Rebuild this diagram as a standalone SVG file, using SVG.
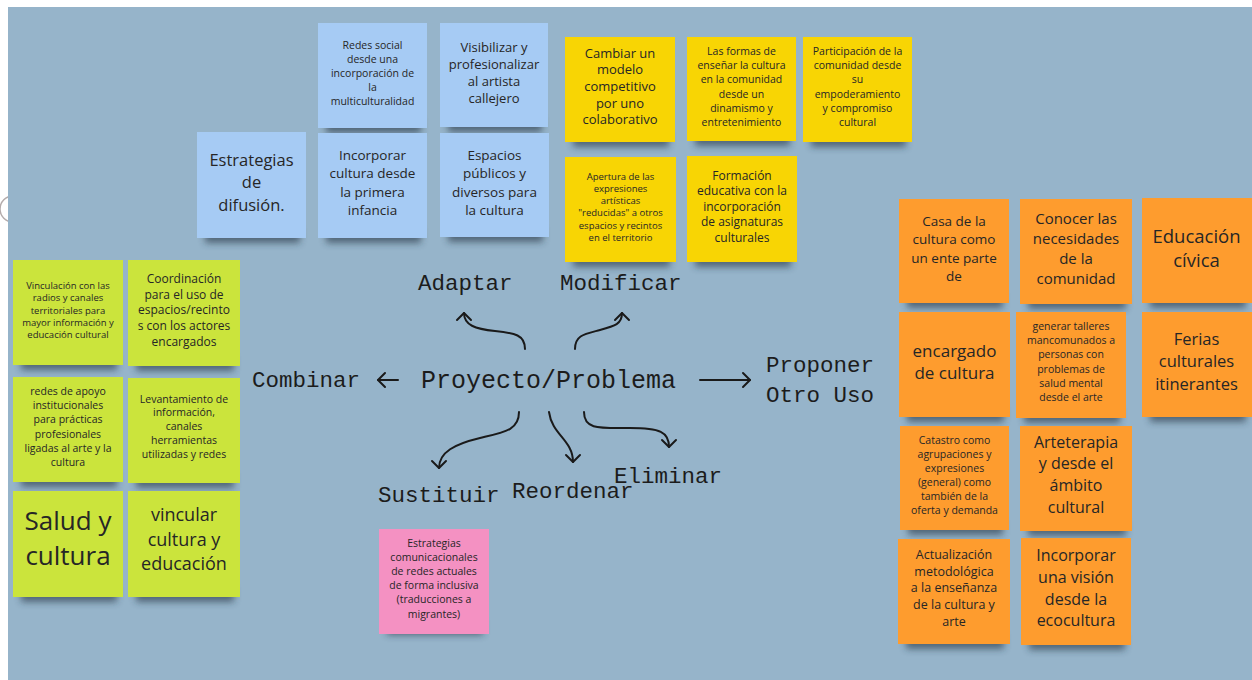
<svg xmlns="http://www.w3.org/2000/svg" width="1252" height="680" viewBox="0 0 1252 680">
<defs>
<filter id="blur" x="-20%" y="-100%" width="140%" height="300%"><feGaussianBlur stdDeviation="3.5"/></filter>
<marker id="chev" viewBox="-10 -10 20 20" refX="0" refY="0" markerWidth="20" markerHeight="20" markerUnits="userSpaceOnUse" orient="auto" overflow="visible">
<path d="M-7,-7 L0,0 L-7,7" fill="none" stroke="#1a1a1a" stroke-width="2" stroke-linecap="round" stroke-linejoin="round"/>
</marker>
<style>
.sh{fill:#24323f;opacity:.6;filter:url(#blur)}
.blue{fill:#a6cbf4}
.yellow{fill:#f8d504}
.green{fill:#cbe43c}
.orange{fill:#fe9c2e}
.pink{fill:#f491c2}
.t{font-family:"Open Sans","Noto Sans",sans-serif;fill:#262626;text-anchor:middle}
.lbl{font-family:"Liberation Mono","DejaVu Sans Mono",monospace;fill:#1c1c1c}
.arr{fill:none;stroke:#1a1a1a;stroke-width:2;stroke-linecap:round;marker-end:url(#chev)}
</style>
</defs>
<rect x="0" y="0" width="1252" height="680" fill="#ffffff"/>
<circle cx="13" cy="209" r="13" fill="none" stroke="#b4acac" stroke-width="1.5"/>
<rect x="8" y="7" width="1244" height="673" fill="#96b4ca"/>

<g id="n-estrategias-difusion"><rect class="sh" x="205" y="228" width="95" height="15"/><rect class="blue" x="197" y="132" width="109" height="106"/>
<text class="t" font-size="16.5"><tspan x="251.5" y="165.5">Estrategias</tspan><tspan x="251.5" dy="22.5">de</tspan><tspan x="251.5" dy="22.5">difusión.</tspan></text></g>
<g id="n-redes-social"><rect class="sh" x="326" y="118" width="95" height="15"/><rect class="blue" x="318" y="23" width="109" height="105"/>
<text class="t" font-size="10.5"><tspan x="372.5" y="48.5">Redes social</tspan><tspan x="372.5" dy="14">desde una</tspan><tspan x="372.5" dy="14">incorporación de</tspan><tspan x="372.5" dy="14">la</tspan><tspan x="372.5" dy="14">multiculturalidad</tspan></text></g>
<g id="n-visibilizar"><rect class="sh" x="448" y="117" width="94" height="15"/><rect class="blue" x="440" y="23" width="108" height="104"/>
<text class="t" font-size="13"><tspan x="494" y="51.6">Visibilizar y</tspan><tspan x="494" dy="17">profesionalizar</tspan><tspan x="494" dy="17">al artista</tspan><tspan x="494" dy="17">callejero</tspan></text></g>
<g id="n-incorporar-infancia"><rect class="sh" x="326" y="228" width="95" height="15"/><rect class="blue" x="318" y="133" width="109" height="105"/>
<text class="t" font-size="13.5"><tspan x="372.5" y="159.5">Incorporar</tspan><tspan x="372.5" dy="18.5">cultura desde</tspan><tspan x="372.5" dy="18.5">la primera</tspan><tspan x="372.5" dy="18.5">infancia</tspan></text></g>
<g id="n-espacios"><rect class="sh" x="448" y="227" width="95" height="15"/><rect class="blue" x="440" y="133" width="109" height="104"/>
<text class="t" font-size="13.5"><tspan x="494.5" y="159.5">Espacios</tspan><tspan x="494.5" dy="18.5">públicos y</tspan><tspan x="494.5" dy="18.5">diversos para</tspan><tspan x="494.5" dy="18.5">la cultura</tspan></text></g>

<g id="n-cambiar"><rect class="sh" x="573" y="132" width="96" height="15"/><rect class="yellow" x="565" y="37" width="110" height="105"/>
<text class="t" font-size="13"><tspan x="620" y="57.5">Cambiar un</tspan><tspan x="620" dy="16.7">modelo</tspan><tspan x="620" dy="16.7">competitivo</tspan><tspan x="620" dy="16.7">por uno</tspan><tspan x="620" dy="16.7">colaborativo</tspan></text></g>
<g id="n-formas"><rect class="sh" x="695" y="131" width="95" height="15"/><rect class="yellow" x="687" y="37" width="109" height="104"/>
<text class="t" font-size="10.5"><tspan x="741.5" y="55.2">Las formas de</tspan><tspan x="741.5" dy="14.1">enseñar la cultura</tspan><tspan x="741.5" dy="14.1">en la comunidad</tspan><tspan x="741.5" dy="14.1">desde un</tspan><tspan x="741.5" dy="14.1">dinamismo y</tspan><tspan x="741.5" dy="14.1">entretenimiento</tspan></text></g>
<g id="n-participacion"><rect class="sh" x="811" y="132" width="95" height="15"/><rect class="yellow" x="803" y="37" width="109" height="105"/>
<text class="t" font-size="10.5"><tspan x="857.5" y="55.2">Participación de la</tspan><tspan x="857.5" dy="14.1">comunidad desde</tspan><tspan x="857.5" dy="14.1">su</tspan><tspan x="857.5" dy="14.1">empoderamiento</tspan><tspan x="857.5" dy="14.1">y compromiso</tspan><tspan x="857.5" dy="14.1">cultural</tspan></text></g>
<g id="n-apertura"><rect class="sh" x="573" y="252" width="97" height="15"/><rect class="yellow" x="565" y="157" width="111" height="105"/>
<text class="t" font-size="9.5"><tspan x="620.5" y="179.7">Apertura de las</tspan><tspan x="620.5" dy="12.2">expresiones</tspan><tspan x="620.5" dy="12.2">artísticas</tspan><tspan x="620.5" dy="12.2">"reducidas" a otros</tspan><tspan x="620.5" dy="12.2">espacios y recintos</tspan><tspan x="620.5" dy="12.2">en el territorio</tspan></text></g>
<g id="n-formacion"><rect class="sh" x="695" y="252" width="96" height="15"/><rect class="yellow" x="687" y="156" width="110" height="106"/>
<text class="t" font-size="12"><tspan x="742" y="179.7">Formación</tspan><tspan x="742" dy="15.5">educativa con la</tspan><tspan x="742" dy="15.5">incorporación</tspan><tspan x="742" dy="15.5">de asignaturas</tspan><tspan x="742" dy="15.5">culturales</tspan></text></g>

<g id="n-vinculacion"><rect class="sh" x="21" y="355" width="96" height="15"/><rect class="green" x="13" y="260" width="110" height="105"/>
<text class="t" font-size="9.5"><tspan x="68" y="289">Vinculación con las</tspan><tspan x="68" dy="12.25">radios y canales</tspan><tspan x="68" dy="12.25">territoriales para</tspan><tspan x="68" dy="12.25">mayor información y</tspan><tspan x="68" dy="12.25">educación cultural</tspan></text></g>
<g id="n-coordinacion"><rect class="sh" x="136" y="356" width="98" height="15"/><rect class="green" x="128" y="260" width="112" height="106"/>
<text class="t" font-size="12"><tspan x="184" y="283">Coordinación</tspan><tspan x="184" dy="15.7">para el uso de</tspan><tspan x="184" dy="15.7">espacios/recinto</tspan><tspan x="184" dy="15.7">s con los actores</tspan><tspan x="184" dy="15.7">encargados</tspan></text></g>
<g id="n-redes-apoyo"><rect class="sh" x="21" y="472" width="96" height="15"/><rect class="green" x="13" y="377" width="110" height="105"/>
<text class="t" font-size="10.5"><tspan x="68" y="395.2">redes de apoyo</tspan><tspan x="68" dy="14.1">institucionales</tspan><tspan x="68" dy="14.1">para prácticas</tspan><tspan x="68" dy="14.1">profesionales</tspan><tspan x="68" dy="14.1">ligadas al arte y la</tspan><tspan x="68" dy="14.1">cultura</tspan></text></g>
<g id="n-levantamiento"><rect class="sh" x="136" y="473" width="98" height="15"/><rect class="green" x="128" y="378" width="112" height="105"/>
<text class="t" font-size="10.5"><tspan x="184" y="402.5">Levantamiento de</tspan><tspan x="184" dy="13.8">información,</tspan><tspan x="184" dy="13.8">canales</tspan><tspan x="184" dy="13.8">herramientas</tspan><tspan x="184" dy="13.8">utilizadas y redes</tspan></text></g>
<g id="n-salud"><rect class="sh" x="21" y="587" width="96" height="15"/><rect class="green" x="13" y="491" width="110" height="106"/>
<text class="t" font-size="26"><tspan x="68" y="530">Salud y</tspan><tspan x="68" dy="35">cultura</tspan></text></g>
<g id="n-vincular"><rect class="sh" x="136" y="587" width="98" height="15"/><rect class="green" x="128" y="491" width="112" height="106"/>
<text class="t" font-size="18"><tspan x="184" y="521">vincular</tspan><tspan x="184" dy="24.7">cultura y</tspan><tspan x="184" dy="24.7">educación</tspan></text></g>

<g id="n-estrategias-comunicacionales"><rect class="sh" x="387" y="620" width="96" height="15"/><rect class="pink" x="379" y="529" width="110" height="105"/>
<text class="t" font-size="10.5"><tspan x="434" y="546.5">Estrategias</tspan><tspan x="434" dy="14.2">comunicacionales</tspan><tspan x="434" dy="14.2">de redes actuales</tspan><tspan x="434" dy="14.2">de forma inclusiva</tspan><tspan x="434" dy="14.2">(traducciones a</tspan><tspan x="434" dy="14.2">migrantes)</tspan></text></g>

<g id="n-casa"><rect class="sh" x="907" y="293" width="96" height="15"/><rect class="orange" x="899" y="199" width="110" height="104"/>
<text class="t" font-size="13.5"><tspan x="954" y="226">Casa de la</tspan><tspan x="954" dy="18.3">cultura como</tspan><tspan x="954" dy="18.3">un ente parte</tspan><tspan x="954" dy="18.3">de</tspan></text></g>
<g id="n-conocer"><rect class="sh" x="1028" y="294" width="98" height="15"/><rect class="orange" x="1020" y="199" width="112" height="105"/>
<text class="t" font-size="15"><tspan x="1076" y="224">Conocer las</tspan><tspan x="1076" dy="20">necesidades</tspan><tspan x="1076" dy="20">de la</tspan><tspan x="1076" dy="20">comunidad</tspan></text></g>
<g id="n-educacion-civica"><rect class="sh" x="1150" y="293" width="96" height="15"/><rect class="orange" x="1142" y="198" width="110" height="105"/>
<text class="t" font-size="18.5"><tspan x="1196.5" y="243">Educación</tspan><tspan x="1196.5" dy="24">cívica</tspan></text></g>
<g id="n-encargado"><rect class="sh" x="907" y="407" width="97" height="15"/><rect class="orange" x="899" y="312" width="111" height="105"/>
<text class="t" font-size="17"><tspan x="954.5" y="356.7">encargado</tspan><tspan x="954.5" dy="22.3">de cultura</tspan></text></g>
<g id="n-generar"><rect class="sh" x="1024" y="408" width="96" height="15"/><rect class="orange" x="1016" y="312" width="110" height="106"/>
<text class="t" font-size="10.5"><tspan x="1071" y="330.2">generar talleres</tspan><tspan x="1071" dy="14.1">mancomunados a</tspan><tspan x="1071" dy="14.1">personas con</tspan><tspan x="1071" dy="14.1">problemas de</tspan><tspan x="1071" dy="14.1">salud mental</tspan><tspan x="1071" dy="14.1">desde el arte</tspan></text></g>
<g id="n-ferias"><rect class="sh" x="1150" y="407" width="96" height="15"/><rect class="orange" x="1142" y="312" width="110" height="105"/>
<text class="t" font-size="16.5"><tspan x="1196.5" y="344.5">Ferias</tspan><tspan x="1196.5" dy="22.7">culturales</tspan><tspan x="1196.5" dy="22.7">itinerantes</tspan></text></g>
<g id="n-catastro"><rect class="sh" x="908" y="520" width="95" height="15"/><rect class="orange" x="900" y="426" width="109" height="104"/>
<text class="t" font-size="10.5"><tspan x="954.5" y="443.5">Catastro como</tspan><tspan x="954.5" dy="14">agrupaciones y</tspan><tspan x="954.5" dy="14">expresiones</tspan><tspan x="954.5" dy="14">(general) como</tspan><tspan x="954.5" dy="14">también de la</tspan><tspan x="954.5" dy="14">oferta y demanda</tspan></text></g>
<g id="n-arteterapia"><rect class="sh" x="1028" y="521" width="98" height="15"/><rect class="orange" x="1020" y="426" width="112" height="105"/>
<text class="t" font-size="16"><tspan x="1076" y="447.5">Arteterapia</tspan><tspan x="1076" dy="21.8">y desde el</tspan><tspan x="1076" dy="21.8">ámbito</tspan><tspan x="1076" dy="21.8">cultural</tspan></text></g>
<g id="n-actualizacion"><rect class="sh" x="906" y="634" width="98" height="15"/><rect class="orange" x="898" y="539" width="112" height="105"/>
<text class="t" font-size="12.5"><tspan x="954" y="559">Actualización</tspan><tspan x="954" dy="16.7">metodológica</tspan><tspan x="954" dy="16.7">a la enseñanza</tspan><tspan x="954" dy="16.7">de la cultura y</tspan><tspan x="954" dy="16.7">arte</tspan></text></g>
<g id="n-ecocultura"><rect class="sh" x="1029" y="635" width="96" height="15"/><rect class="orange" x="1021" y="538" width="110" height="107"/>
<text class="t" font-size="16"><tspan x="1076" y="561">Incorporar</tspan><tspan x="1076" dy="21.8">una visión</tspan><tspan x="1076" dy="21.8">desde la</tspan><tspan x="1076" dy="21.8">ecocultura</tspan></text></g>

<g id="n-proyecto"><text class="lbl" x="421" y="388" font-size="25">Proyecto/Problema</text></g>
<g id="n-adaptar"><text class="lbl" x="418" y="290" font-size="22.5">Adaptar</text></g>
<g id="n-modificar"><text class="lbl" x="560" y="290" font-size="22.5">Modificar</text></g>
<g id="n-combinar"><text class="lbl" x="252" y="387" font-size="22.5">Combinar</text></g>
<g id="n-proponer"><text class="lbl" font-size="22.5"><tspan x="766" y="372">Proponer</tspan><tspan x="766" y="402">Otro Uso</tspan></text></g>
<g id="n-sustituir"><text class="lbl" x="378" y="502" font-size="22.5">Sustituir</text></g>
<g id="n-reordenar"><text class="lbl" x="512" y="498" font-size="22.5">Reordenar</text></g>
<g id="n-eliminar"><text class="lbl" x="614" y="483" font-size="22.5">Eliminar</text></g>

<g id="connectors">
<path class="arr" d="M398,380 L378,380"/>
<path class="arr" d="M700,380 L750,380"/>
<path class="arr" d="M525,349 C525,335 515,333 495,331 C475,329 464,325 464,313"/>
<path class="arr" d="M575,349 C575,335 585,334 600,330 C615,326 622,324 622,313"/>
<path class="arr" d="M519,412 C519,430 505,432 480,438 C455,444 439,452 439,468"/>
<path class="arr" d="M549,412 C552,435 573,440 573,462"/>
<path class="arr" d="M584,412 C584,430 600,428 630,428 C660,428 669,432 669,447"/>
</g>
</svg>
